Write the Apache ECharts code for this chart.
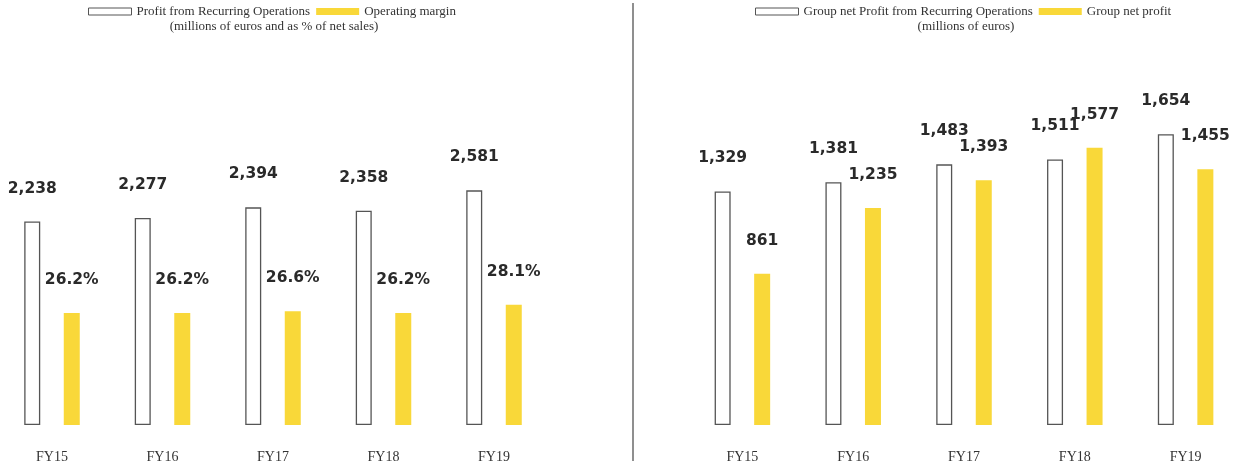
<!DOCTYPE html>
<html>
<head>
<meta charset="utf-8">
<title>Profit from Recurring Operations and Group net profit, FY15–FY19</title>
<script src="https://cdn.jsdelivr.net/npm/echarts@6/dist/echarts.min.js"></script>
<style>
  html, body { margin: 0; padding: 0; background: #ffffff; overflow: hidden; }
  /* canvas is shifted 4px left so the first category band can start just off the page edge */
  #chart { position: absolute; left: -4px; top: 0; width: 1250px; height: 470px; }
</style>
</head>
<body>
<div id="chart"></div>
<script>
// Fiscal years shown on both panels
const years = ['FY15', 'FY16', 'FY17', 'FY18', 'FY19'];

// Left panel: millions of euros, and operating margin as % of net sales
const recurringProfit = [2238, 2277, 2394, 2358, 2581];
const operatingMargin = [26.2, 26.2, 26.6, 26.2, 28.1];

// Right panel: millions of euros
const groupRecurringNet = [1329, 1381, 1483, 1511, 1654];
const groupNetProfit = [861, 1235, 1393, 1577, 1455];

const NAMES = {
  recurring: 'Profit from Recurring Operations',
  margin: 'Operating margin',
  groupRecurring: 'Group net Profit from Recurring Operations',
  groupNet: 'Group net profit'
};

const X0 = 4; // horizontal offset of the canvas inside the page

const YELLOW = '#F9D839';
const OUTLINE = '#555555';
const LABEL_DARK = '#2a2a2a';
const SERIF = '"Liberation Serif", "DejaVu Serif", serif';
const SANS = '"DejaVu Sans", sans-serif';

const fmtThousands = v => Number(v).toLocaleString('en-US');

const valueLabel = (formatter) => ({
  show: true,
  position: 'top',
  distance: 25,
  fontFamily: SANS,
  fontWeight: 'bold',
  fontSize: 15.5,
  lineHeight: 16,
  color: LABEL_DARK,
  formatter: p => formatter(p.value)
});

const outlineStyle = { color: '#ffffff', borderColor: OUTLINE, borderWidth: 1.3 };
const fillStyle = { color: YELLOW };

const categoryAxis = (gridIndex) => ({
  type: 'category',
  gridIndex,
  data: years,
  axisLine: { show: false },
  axisTick: { show: false },
  axisLabel: { margin: 25, fontFamily: SERIF, fontSize: 14, color: '#333333' }
});

const hiddenValueAxis = (gridIndex, max) => ({
  type: 'value',
  gridIndex,
  min: 0,
  max,
  show: false,
  splitLine: { show: false }
});

const legendText = { fontFamily: SERIF, fontSize: 13, color: '#333333' };

const legendBase = {
  top: 5, padding: 0,
  icon: 'rect',
  itemWidth: 43, itemHeight: 7, itemGap: 6,
  itemStyle: { borderWidth: 1 },
  selectedMode: false,
  textStyle: legendText
};

const subtitle = (text, cx) => ({
  text,
  left: cx, top: 20, textAlign: 'center', padding: 0,
  textStyle: { fontFamily: SERIF, fontSize: 13, fontWeight: 'normal', color: '#333333' }
});

const option = {
  animation: false,
  backgroundColor: '#ffffff',
  title: [
    subtitle('(millions of euros and as % of net sales)', X0 + 274),
    subtitle('(millions of euros)', X0 + 966)
  ],
  legend: [
    Object.assign({ data: [NAMES.recurring, NAMES.margin], left: X0 + 88 }, legendBase),
    Object.assign({ data: [NAMES.groupRecurring, NAMES.groupNet], left: X0 + 755 }, legendBase)
  ],
  grid: [
    { left: X0 - 3.25, width: 552.5, top: 25, bottom: 45, containLabel: false },
    { left: X0 + 687, width: 554, top: 25, bottom: 45, containLabel: false }
  ],
  xAxis: [categoryAxis(0), categoryAxis(1)],
  yAxis: [
    hiddenValueAxis(0, 4400),
    hiddenValueAxis(0, 93.5),
    hiddenValueAxis(1, 2276)
  ],
  series: [
    {
      name: NAMES.recurring, type: 'bar',
      xAxisIndex: 0, yAxisIndex: 0,
      data: recurringProfit,
      barWidth: 16, barGap: '147%',
      itemStyle: outlineStyle,
      label: valueLabel(fmtThousands)
    },
    {
      name: NAMES.margin, type: 'bar',
      xAxisIndex: 0, yAxisIndex: 1,
      data: operatingMargin,
      barWidth: 16, barGap: '147%',
      itemStyle: fillStyle,
      label: valueLabel(v => v.toFixed(1) + '%')
    },
    {
      name: NAMES.groupRecurring, type: 'bar',
      xAxisIndex: 1, yAxisIndex: 2,
      data: groupRecurringNet,
      barWidth: 16, barGap: '147%',
      itemStyle: outlineStyle,
      label: valueLabel(fmtThousands)
    },
    {
      name: NAMES.groupNet, type: 'bar',
      xAxisIndex: 1, yAxisIndex: 2,
      data: groupNetProfit,
      barWidth: 16, barGap: '147%',
      itemStyle: fillStyle,
      label: valueLabel(fmtThousands)
    }
  ],
  graphic: [
    {
      type: 'line',
      shape: { x1: X0 + 633, y1: 3, x2: X0 + 633, y2: 461 },
      style: { stroke: '#8f8f8f', lineWidth: 2 },
      silent: true
    }
  ]
};

const chart = echarts.init(document.getElementById('chart'), null, { renderer: 'canvas' });
chart.setOption(option);
</script>
</body>
</html>
